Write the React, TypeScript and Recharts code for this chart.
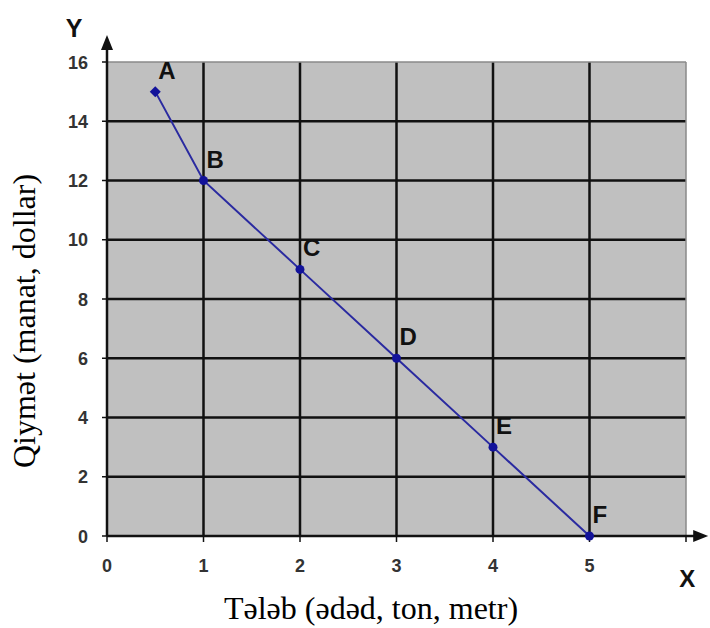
import { CartesianGrid, Label, LabelList, Line, LineChart, ReferenceLine, XAxis, YAxis } from "recharts";

// demand curve: quantity (X) vs price (Y)
const quantities = [0.5, 1, 2, 3, 4, 5];
const prices = [15, 12, 9, 6, 3, 0];
const pointNames = ["A", "B", "C", "D", "E", "F"];
const xTicks = [0, 1, 2, 3, 4, 5, 6];
const yTicks = [0, 2, 4, 6, 8, 10, 12, 14, 16];
const gridX = [1, 2, 3, 4, 5];
const gridY = [2, 4, 6, 8, 10, 12, 14];

const data = quantities.map((q, i) => ({ q, p: prices[i], name: pointNames[i] }));

const SANS = "Liberation Sans, Arial, sans-serif";
const SERIF = "Liberation Serif, Times New Roman, serif";

function XTick({ x, y, payload }: any) {
  if (payload.value === 6) return <g />;
  return (
    <text x={x} y={y + 28} textAnchor="middle" fontFamily={SANS} fontSize={18} fontWeight="bold" fill="#333">
      {payload.value}
    </text>
  );
}

function YTick({ x, y, payload }: any) {
  return (
    <text x={x - 12} y={y + 6.5} textAnchor="end" fontFamily={SANS} fontSize={18} fontWeight="bold" fill="#333">
      {payload.value}
    </text>
  );
}

function PointDot({ cx, cy, index }: any) {
  if (index === 0) {
    return (
      <polygon
        key={index}
        points={`${cx},${cy - 5.5} ${cx + 5.5},${cy} ${cx},${cy + 5.5} ${cx - 5.5},${cy}`}
        fill="#12129a"
      />
    );
  }
  return <circle key={index} cx={cx} cy={cy} r={4.5} fill="#12129a" />;
}

function PointLabel({ x, y, value }: any) {
  return (
    <text x={x + 3} y={y - 13} fontFamily={SANS} fontSize={24} fontWeight="bold" fill="#111">
      {value}
    </text>
  );
}

function ArrowY({ x1, y1, x2, y2 }: any) {
  return (
    <g>
      <line x1={x1} y1={y1} x2={x2} y2={y2 + 12} stroke="#111" strokeWidth={2.5} />
      <polygon points={`${x2},${y2} ${x2 + 6},${y2 + 15} ${x2 - 6},${y2 + 15}`} fill="#111" />
      <text x={x2 - 33} y={y2 + 2} textAnchor="middle" fontFamily={SANS} fontSize={25} fontWeight="bold" fill="#111">
        Y
      </text>
    </g>
  );
}

function ArrowX({ x1, y1, x2, y2 }: any) {
  return (
    <g>
      <line x1={x1} y1={y1} x2={x2 - 12} y2={y2} stroke="#111" strokeWidth={2.5} />
      <polygon points={`${x2},${y2} ${x2 - 15},${y2 - 6} ${x2 - 15},${y2 + 6}`} fill="#111" />
      <text x={x2 - 21} y={y2 + 51} textAnchor="middle" fontFamily={SANS} fontSize={24} fontWeight="bold" fill="#111">
        X
      </text>
    </g>
  );
}

function YTitle() {
  return (
    <text transform="translate(35, 321) rotate(-90)" textAnchor="middle" fontFamily={SERIF} fontSize={32} fill="#000">
      Qiymət (manat, dollar)
    </text>
  );
}

function XTitle() {
  return (
    <text x={371} y={619} textAnchor="middle" fontFamily={SERIF} fontSize={32} fill="#000">
      Tələb (ədəd, ton, metr)
    </text>
  );
}

export default function App() {
  return (
    <div style={{ position: "absolute", left: 0, top: 0, width: 710, height: 628, background: "#fff" }}>
      <LineChart width={710} height={628} data={data} margin={{ top: 62, right: 24, bottom: 62, left: 0 }}>
        <CartesianGrid
          fill="#c0c0c0"
          stroke="#111"
          strokeWidth={2.5}
          horizontalValues={gridY}
          verticalValues={gridX}
        />
        <XAxis
          type="number"
          dataKey="q"
          domain={[0, 6]}
          ticks={xTicks}
          axisLine={false}
          tickLine={{ stroke: "#111", strokeWidth: 1.5 }}
          tickSize={6}
          height={30}
          tick={<XTick />}
          interval={0}
        >
          <Label content={<XTitle />} />
        </XAxis>
        <YAxis
          type="number"
          domain={[0, 16]}
          ticks={yTicks}
          axisLine={false}
          tickLine={{ stroke: "#111", strokeWidth: 1.5 }}
          tickSize={5}
          width={107}
          tick={<YTick />}
          interval={0}
        >
          <Label content={<YTitle />} />
        </YAxis>
        <ReferenceLine y={16} stroke="#8a8a8a" strokeWidth={1.5} />
        <ReferenceLine x={6} stroke="#8a8a8a" strokeWidth={1.5} />
        <ReferenceLine
          segment={[{ x: 0, y: 0 }, { x: 0, y: 16.91 }]}
          ifOverflow="visible"
          shape={(p: any) => <ArrowY {...p} />}
        />
        <ReferenceLine
          segment={[{ x: 0, y: 0 }, { x: 6.23, y: 0 }]}
          ifOverflow="visible"
          shape={(p: any) => <ArrowX {...p} />}
        />
        <Line
          type="linear"
          dataKey="p"
          stroke="#2a2aa0"
          strokeWidth={2}
          dot={<PointDot />}
          activeDot={false}
          isAnimationActive={false}
        >
          <LabelList dataKey="name" content={<PointLabel />} />
        </Line>
      </LineChart>
    </div>
  );
}
